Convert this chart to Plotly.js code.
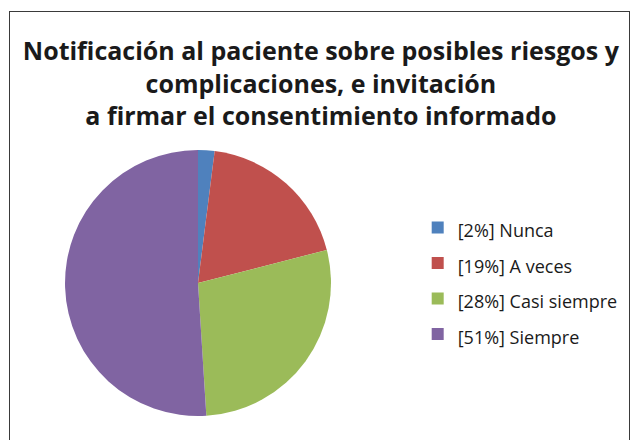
<!DOCTYPE html>
<html>
<head>
<meta charset="utf-8">
<script src="https://cdn.plot.ly/plotly-3.0.1.min.js"></script>
<style>
  html, body { margin: 0; padding: 0; background: #fff; }
  #wrap { position: relative; width: 638px; height: 440px; overflow: hidden; }
  #chart { width: 638px; height: 440px; }
  #frame { position: absolute; left: 9px; top: 11px; width: 619px; height: 460px;
           border: 1.5px solid #3a3a3a; pointer-events: none; }
</style>
</head>
<body>
<div id="wrap">
  <div id="chart"></div>
  <div id="frame"></div>
</div>
<script>
const categories = ["Nunca", "A veces", "Casi siempre", "Siempre"];
const percentages = [2, 19, 28, 51];
const colors = ["#4F81BD", "#C0504D", "#9BBB59", "#8064A2"];
const titleLines = [
  "Notificación al paciente sobre posibles riesgos y",
  "complicaciones, e invitación",
  "a firmar el consentimiento informado"
];

const legendLabels = categories.map((c, i) =>
  '<span style="font-size:18px">[' + percentages[i] + '%] ' + c + '</span>');

const trace = {
  type: "pie",
  labels: legendLabels,
  values: percentages,
  sort: false,
  direction: "clockwise",
  rotation: 0,
  textinfo: "none",
  hoverinfo: "label+percent",
  marker: { colors: colors, line: { width: 0 } },
  domain: { x: [0.1019, 0.5188], y: [0.0545, 0.659] }
};

const layout = {
  width: 638, height: 440,
  margin: { l: 0, r: 0, t: 0, b: 0 },
  paper_bgcolor: "#ffffff",
  plot_bgcolor: "#ffffff",
  showlegend: true,
  title: {
    text: "<b>" + titleLines.join("<br>") + "</b>",
    font: { family: "Open Sans, sans-serif", size: 25, color: "#1a1a1a" },
    x: 0.503, xanchor: "center",
    y: 0.863, yanchor: "middle",
    yref: "container"
  },
  legend: {
    x: 0.6547, xanchor: "left",
    y: 0.362, yanchor: "middle",
    font: { family: "Open Sans, sans-serif", size: 25, color: "#1a1a1a" },
    bgcolor: "rgba(0,0,0,0)",
    traceorder: "normal"
  }
};

Plotly.newPlot("chart", [trace], layout, { displayModeBar: false, staticPlot: true });
</script>
</body>
</html>
